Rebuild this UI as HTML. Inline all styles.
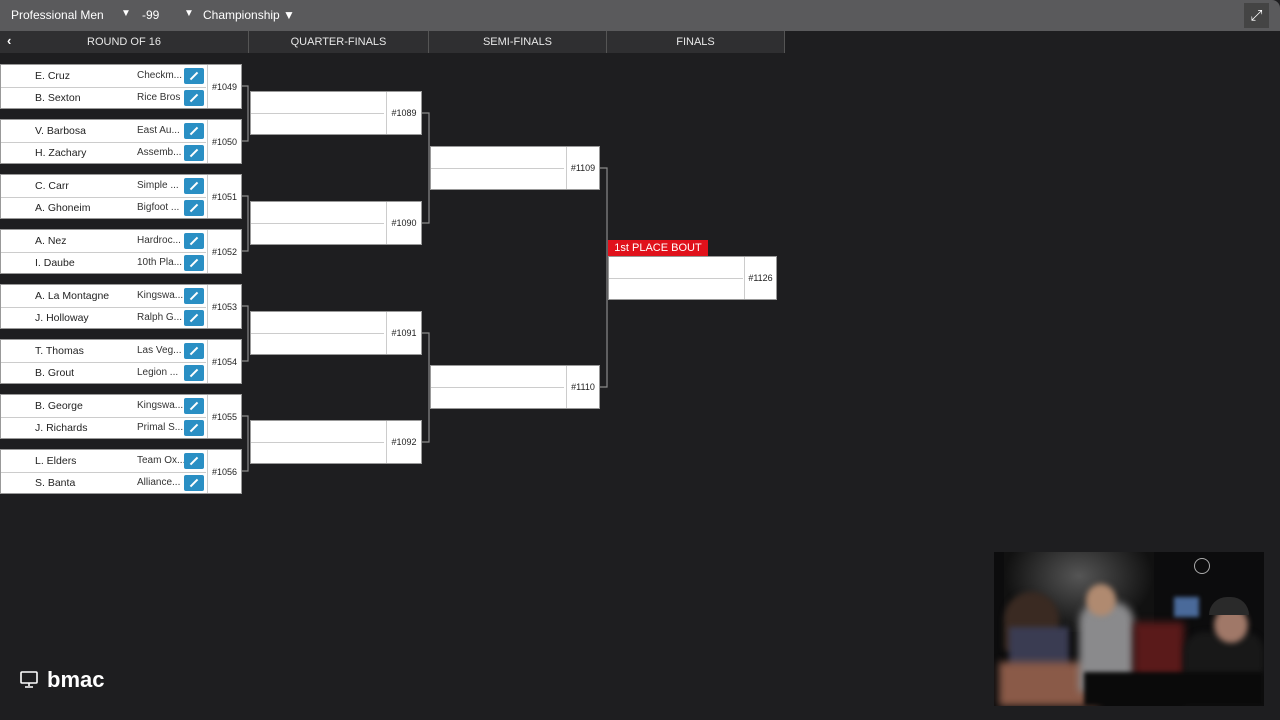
<!DOCTYPE html>
<html><head><meta charset="utf-8"><style>
*{margin:0;padding:0;box-sizing:border-box}
body{width:1280px;height:720px;background:#1e1e20;font-family:"Liberation Sans",sans-serif;position:relative;overflow:hidden;color:#222}
.a{position:absolute}
.top{left:0;top:0;width:1280px;height:31px;background:#5a5a5c;border-radius:0 8px 0 0}
.top span{position:absolute;top:8px;color:#fff;font-size:12px}
.hdr{top:31px;height:22px;background:#2f2f31;color:#e8e8e8;font-size:11px;text-align:center;line-height:22px;border-right:1px solid #555}
.m{background:#fff;border:1px solid #999;}
.row{position:absolute;left:0;height:22px;font-size:10.5px;line-height:22px}
.nm{position:absolute;left:34px}
.tm{position:absolute;left:136px;color:#333;font-size:10px}
.ic{position:absolute;left:183px;width:20px;height:16px;background:#2a8fc4;border-radius:2px;top:3px}
.ic:after{content:"";position:absolute;left:5px;top:7px;width:10px;height:2px;background:#fff;transform:rotate(-45deg)}
.num{position:absolute;top:0;bottom:0;border-left:1px solid #ccc;font-size:9px;display:flex;align-items:center;justify-content:center}
.div{position:absolute;left:0;right:0;top:50%;border-top:1px solid #ccc}
</style></head><body>
<div class="a top">
<span style="left:11px">Professional Men</span>
<span style="left:121px;font-size:10px">▼</span>
<span style="left:142px">-99</span>
<span style="left:184px;font-size:10px">▼</span>
<span style="left:203px">Championship ▼</span>
<div class="a" style="left:1244px;top:3px;width:25px;height:25px;background:#444;color:#fff;font-size:15px;text-align:center;line-height:25px">⤢</div>
</div>
<div class="a hdr" style="left:0;width:249px">ROUND OF 16</div>
<div class="a" style="left:7px;top:33px;color:#fff;font-size:13px;font-weight:bold">‹</div>
<div class="a hdr" style="left:249px;width:180px">QUARTER-FINALS</div>
<div class="a hdr" style="left:429px;width:178px">SEMI-FINALS</div>
<div class="a hdr" style="left:607px;width:178px">FINALS</div>

<div class="a m" style="left:0;top:64px;width:242px;height:45px"><div class="div" style="right:35px"></div><div class="row" style="top:0;width:207px"><span class="nm">E. Cruz</span><span class="tm">Checkm...</span><i class="ic"></i></div><div class="row" style="top:22px;width:207px"><span class="nm">B. Sexton</span><span class="tm">Rice Bros</span><i class="ic"></i></div><div class="num" style="left:206px;right:0">#1049</div></div>
<div class="a m" style="left:0;top:119px;width:242px;height:45px"><div class="div" style="right:35px"></div><div class="row" style="top:0;width:207px"><span class="nm">V. Barbosa</span><span class="tm">East Au...</span><i class="ic"></i></div><div class="row" style="top:22px;width:207px"><span class="nm">H. Zachary</span><span class="tm">Assemb...</span><i class="ic"></i></div><div class="num" style="left:206px;right:0">#1050</div></div>
<div class="a m" style="left:0;top:174px;width:242px;height:45px"><div class="div" style="right:35px"></div><div class="row" style="top:0;width:207px"><span class="nm">C. Carr</span><span class="tm">Simple ...</span><i class="ic"></i></div><div class="row" style="top:22px;width:207px"><span class="nm">A. Ghoneim</span><span class="tm">Bigfoot ...</span><i class="ic"></i></div><div class="num" style="left:206px;right:0">#1051</div></div>
<div class="a m" style="left:0;top:229px;width:242px;height:45px"><div class="div" style="right:35px"></div><div class="row" style="top:0;width:207px"><span class="nm">A. Nez</span><span class="tm">Hardroc...</span><i class="ic"></i></div><div class="row" style="top:22px;width:207px"><span class="nm">I. Daube</span><span class="tm">10th Pla...</span><i class="ic"></i></div><div class="num" style="left:206px;right:0">#1052</div></div>
<div class="a m" style="left:0;top:284px;width:242px;height:45px"><div class="div" style="right:35px"></div><div class="row" style="top:0;width:207px"><span class="nm">A. La Montagne</span><span class="tm">Kingswa...</span><i class="ic"></i></div><div class="row" style="top:22px;width:207px"><span class="nm">J. Holloway</span><span class="tm">Ralph G...</span><i class="ic"></i></div><div class="num" style="left:206px;right:0">#1053</div></div>
<div class="a m" style="left:0;top:339px;width:242px;height:45px"><div class="div" style="right:35px"></div><div class="row" style="top:0;width:207px"><span class="nm">T. Thomas</span><span class="tm">Las Veg...</span><i class="ic"></i></div><div class="row" style="top:22px;width:207px"><span class="nm">B. Grout</span><span class="tm">Legion ...</span><i class="ic"></i></div><div class="num" style="left:206px;right:0">#1054</div></div>
<div class="a m" style="left:0;top:394px;width:242px;height:45px"><div class="div" style="right:35px"></div><div class="row" style="top:0;width:207px"><span class="nm">B. George</span><span class="tm">Kingswa...</span><i class="ic"></i></div><div class="row" style="top:22px;width:207px"><span class="nm">J. Richards</span><span class="tm">Primal S...</span><i class="ic"></i></div><div class="num" style="left:206px;right:0">#1055</div></div>
<div class="a m" style="left:0;top:449px;width:242px;height:45px"><div class="div" style="right:35px"></div><div class="row" style="top:0;width:207px"><span class="nm">L. Elders</span><span class="tm">Team Ox...</span><i class="ic"></i></div><div class="row" style="top:22px;width:207px"><span class="nm">S. Banta</span><span class="tm">Alliance...</span><i class="ic"></i></div><div class="num" style="left:206px;right:0">#1056</div></div>

<svg class="a" style="left:0;top:0" width="800" height="520">
<g stroke="#8a8a8a" stroke-width="1.2" fill="none">
<path d="M242 86H248V141H242"/><path d="M242 196H248V251H242"/><path d="M242 306H248V361H242"/><path d="M242 416H248V471H242"/>
<path d="M422 113H429V223H422"/><path d="M422 333H429V442H422"/>
<path d="M600 168H607V387H600"/>
</g></svg>

<div class="a m" style="left:250px;top:91px;width:172px;height:44px"><div class="div" style="right:37px"></div><div class="num" style="left:135px;right:0">#1089</div></div>
<div class="a m" style="left:250px;top:201px;width:172px;height:44px"><div class="div" style="right:37px"></div><div class="num" style="left:135px;right:0">#1090</div></div>
<div class="a m" style="left:250px;top:311px;width:172px;height:44px"><div class="div" style="right:37px"></div><div class="num" style="left:135px;right:0">#1091</div></div>
<div class="a m" style="left:250px;top:420px;width:172px;height:44px"><div class="div" style="right:37px"></div><div class="num" style="left:135px;right:0">#1092</div></div>
<div class="a m" style="left:430px;top:146px;width:170px;height:44px"><div class="div" style="right:35px"></div><div class="num" style="left:135px;right:0">#1109</div></div>
<div class="a m" style="left:430px;top:365px;width:170px;height:44px"><div class="div" style="right:35px"></div><div class="num" style="left:135px;right:0">#1110</div></div>
<div class="a" style="left:608px;top:240px;width:100px;height:16px;background:#e0111b;color:#fff;font-size:11px;line-height:16px;text-align:center">1st PLACE BOUT</div>
<div class="a m" style="left:608px;top:256px;width:169px;height:44px"><div class="div" style="right:33px"></div><div class="num" style="left:135px;right:0">#1126</div></div>

<svg class="a" style="left:20px;top:671px" width="18" height="17"><rect x="1" y="1" width="16" height="11" rx="1" fill="none" stroke="#fff" stroke-width="1.6"/><path d="M9 12V15M5 16H13" stroke="#fff" stroke-width="1.6"/></svg>
<div class="a" style="left:47px;top:667px;color:#fff;font-size:22px;font-weight:bold">bmac</div>

<div class="a" style="left:994px;top:552px;width:270px;height:154px;background:#0c0c0d;overflow:hidden">
<div class="a" style="left:10px;top:0;width:150px;height:80px;background:radial-gradient(ellipse at 50% 30%,#555,#111 70%)"></div>
<div class="a" style="left:200px;top:6px;width:16px;height:16px;border:1px solid #aaa;border-radius:50%"></div>
<div class="a" style="left:10px;top:40px;width:55px;height:60px;background:#3a2a22;border-radius:30px 30px 5px 5px;filter:blur(3px)"></div>
<div class="a" style="left:15px;top:75px;width:60px;height:60px;background:#3a3c52;filter:blur(3px)"></div>
<div class="a" style="left:5px;top:110px;width:100px;height:44px;background:#8a5a48;filter:blur(4px)"></div>
<div class="a" style="left:85px;top:50px;width:55px;height:90px;background:#8a8a8c;filter:blur(4px);border-radius:20px 20px 0 0"></div>
<div class="a" style="left:92px;top:32px;width:30px;height:32px;background:#b08a70;filter:blur(3px);border-radius:50%"></div>
<div class="a" style="left:140px;top:70px;width:50px;height:70px;background:#5a1a1a;filter:blur(4px)"></div>
<div class="a" style="left:180px;top:45px;width:25px;height:20px;background:#4a6a9a;filter:blur(2px)"></div>
<div class="a" style="left:190px;top:80px;width:80px;height:74px;background:#181818;filter:blur(3px);border-radius:20px 20px 0 0"></div>
<div class="a" style="left:220px;top:55px;width:34px;height:36px;background:#a07868;filter:blur(3px);border-radius:50%"></div>
<div class="a" style="left:215px;top:45px;width:40px;height:18px;background:#2a2a2a;border-radius:18px 18px 0 0"></div>
<div class="a" style="left:90px;top:120px;width:180px;height:34px;background:#0a0a0a;filter:blur(2px)"></div>
</div>
</body></html>
